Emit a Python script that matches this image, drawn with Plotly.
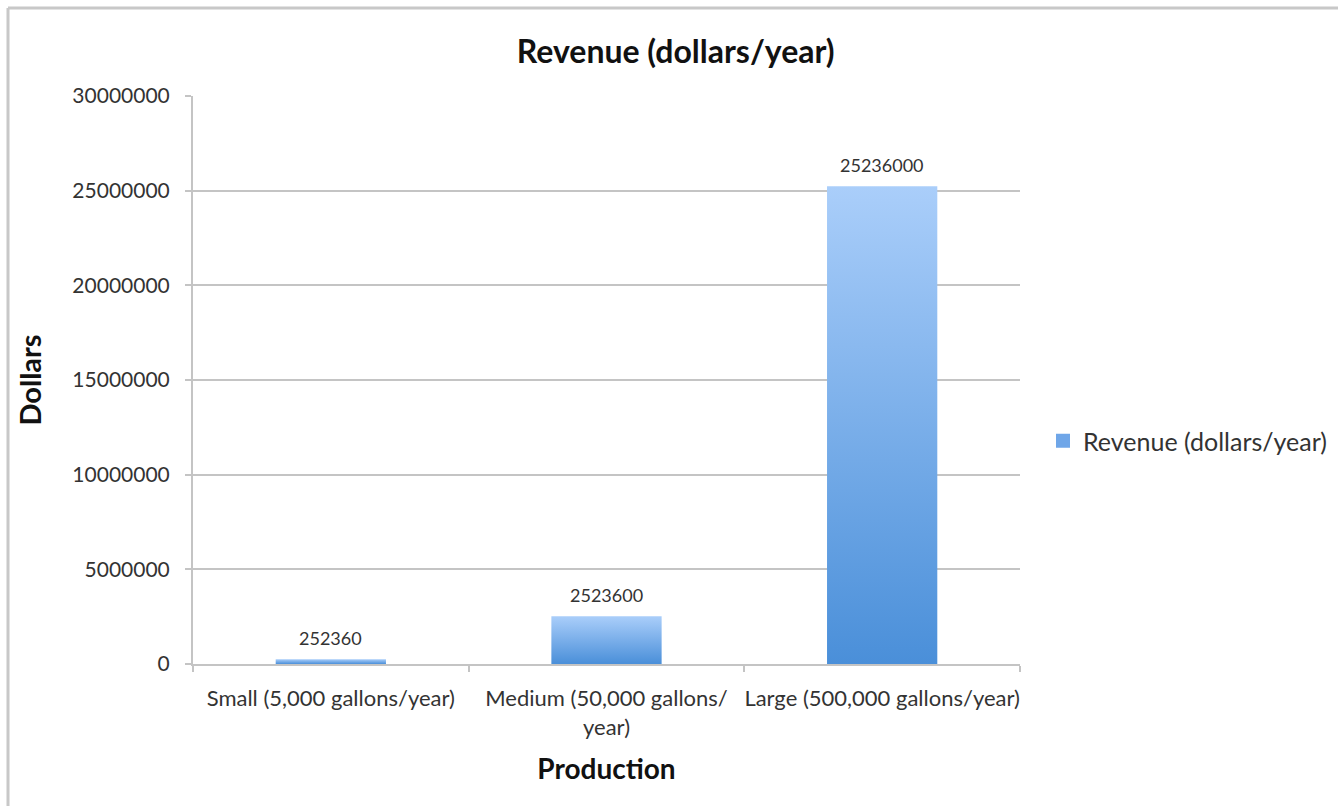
import plotly.graph_objects as go

# Revenue by production scale
categories = ["Small (5,000 gallons/year)", "Medium (50,000 gallons/<br>year)", "Large (500,000 gallons/year)"]
revenue = [252360, 2523600, 25236000]
y_ticks = [0, 5000000, 10000000, 15000000, 20000000, 25000000, 30000000]
series_name = "Revenue (dollars/year)"

W, H = 1338, 806
ML, MR, MT, MB = 193, 318, 96, 142
FONT = "Lato"
BAR_HALF = 0.2

fig = go.Figure()

# each bar is a filled rectangle so it can carry its own vertical gradient
for i, v in enumerate(revenue):
    fig.add_trace(go.Scatter(
        x=[i - BAR_HALF, i + BAR_HALF, i + BAR_HALF, i - BAR_HALF, i - BAR_HALF],
        y=[0, 0, v, v, 0],
        mode="lines",
        line=dict(width=0),
        fill="toself",
        fillcolor="#7aaeea",
        fillgradient=dict(type="vertical",
                          colorscale=[[0, "#4a8fd9"], [1, "#aacefa"]]),
        showlegend=False,
        hoverinfo="skip",
    ))

# legend entry with a square swatch
fig.add_trace(go.Scatter(
    x=[None], y=[None], mode="markers",
    marker=dict(symbol="square", size=14, color="#6fa6e8"),
    name=series_name,
))

# value labels above the bars
for i, v in enumerate(revenue):
    fig.add_annotation(
        x=i, y=v, text=str(v), showarrow=False,
        xanchor="center", yanchor="bottom", yshift=8,
        font=dict(family=FONT, size=18, color="#333333"),
    )

grid = "#c4c4c4"

fig.update_layout(
    width=W, height=H,
    margin=dict(l=ML, r=MR, t=MT, b=MB, pad=0, autoexpand=False),
    paper_bgcolor="white",
    plot_bgcolor="white",
    font=dict(family=FONT, color="#333333"),
    title=dict(text="<b>Revenue (dollars/year)</b>", x=0.505, xanchor="center",
               y=1 - 52 / H, yanchor="middle",
               font=dict(family=FONT, size=32, color="#111111")),
    showlegend=True,
    legend=dict(x=(1043 - ML) / (W - ML - MR), y=(664 - 441) / (H - MT - MB),
                xanchor="left", yanchor="middle",
                font=dict(family=FONT, size=25, color="#333333"),
                itemwidth=30, bgcolor="rgba(0,0,0,0)"),
    xaxis=dict(
        range=[-0.5, len(revenue) - 0.5],
        tickvals=list(range(len(revenue))),
        ticktext=categories,
        ticks="",
        ticklabelstandoff=14,
        tickfont=dict(family=FONT, size=22, color="#333333"),
        showgrid=False,
        zeroline=False,
        showline=True, linecolor=grid, linewidth=2,
        minor=dict(tick0=-0.5, dtick=1, ticks="outside", ticklen=6,
                   tickcolor=grid, tickwidth=2, showgrid=False),
        title=dict(text="<b>Production</b>", standoff=20,
                   font=dict(family=FONT, size=28, color="#111111")),
        fixedrange=True,
    ),
    yaxis=dict(
        range=[0, 30000000],
        tickvals=y_ticks,
        ticktext=[str(t) for t in y_ticks],
        ticks="outside", ticklen=6, tickcolor=grid, tickwidth=2,
        ticklabelstandoff=11,
        tickfont=dict(family=FONT, size=21, color="#333333"),
        showgrid=True, gridcolor=grid, gridwidth=2,
        zeroline=False,
        showline=True, linecolor=grid, linewidth=2,
        title=dict(text="<b>Dollars</b>", standoff=22,
                   font=dict(family=FONT, size=29, color="#111111")),
        fixedrange=True,
    ),
)

# outer frame along the top and left edges of the chart area
pw, ph = W - ML - MR, H - MT - MB
fx0 = (8 - ML) / pw
fy_top = 1 + (MT - 8) / ph
fig.add_shape(type="line", xref="paper", yref="paper",
              x0=fx0, y0=fy_top, x1=(W - ML) / pw, y1=fy_top,
              line=dict(color="#c8c8c8", width=3), layer="below")
fig.add_shape(type="line", xref="paper", yref="paper",
              x0=fx0, y0=fy_top, x1=fx0, y1=-MB / ph,
              line=dict(color="#c8c8c8", width=3), layer="below")

fig.write_html("out.html", config={"displayModeBar": False})
